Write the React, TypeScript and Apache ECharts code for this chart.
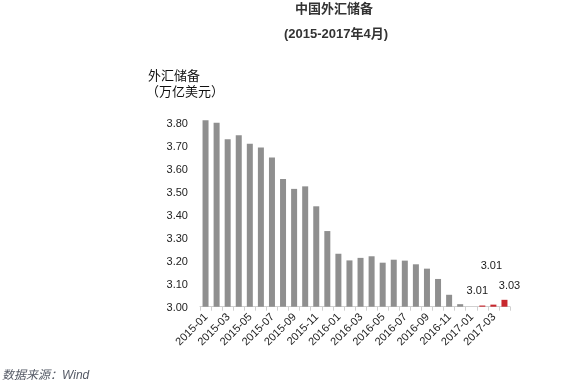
import React, { useEffect, useRef } from "react";
import * as echarts from "echarts";

const categories = [
  "2015-01","2015-02","2015-03","2015-04","2015-05","2015-06","2015-07","2015-08","2015-09","2015-10","2015-11","2015-12",
  "2016-01","2016-02","2016-03","2016-04","2016-05","2016-06","2016-07","2016-08","2016-09","2016-10","2016-11","2016-12",
  "2017-01","2017-02","2017-03","2017-04",
];
const reserves = [
  3.813, 3.802, 3.730, 3.748, 3.711, 3.694, 3.651, 3.557, 3.514, 3.525, 3.438, 3.330,
  3.231, 3.202, 3.213, 3.220, 3.192, 3.205, 3.201, 3.185, 3.166, 3.121, 3.052, 3.011,
  2.998, 3.0051, 3.009, 3.030,
];
const highlighted = ["2017-02", "2017-03", "2017-04"];
const labelOffsets: Record<string, number[]> = {
  "2017-02": [-5, -5],
  "2017-03": [-2, -29],
  "2017-04": [5, -4],
};

const FONT = "'Liberation Sans', 'Noto Sans CJK SC', sans-serif";

export default function App() {
  const ref = useRef<HTMLDivElement>(null);
  useEffect(() => {
    if (!ref.current) return;
    const chart = echarts.init(ref.current, undefined, { renderer: "svg" });
    const data = categories.map((c, i) => {
      const hi = highlighted.includes(c);
      return {
        value: reserves[i],
        itemStyle: { color: hi ? "#c8282e" : "#8f8f8f" },
        label: hi
          ? {
              show: true,
              position: "top",
              offset: labelOffsets[c],
              formatter: (p: any) => (Math.round(Number(p.value) * 100 + 1e-6) / 100).toFixed(2),
              color: "#1a1a1a",
              fontSize: 11,
              fontFamily: FONT,
            }
          : { show: false },
      };
    });
    chart.setOption({
      animation: false,
      textStyle: { fontFamily: FONT },
      grid: { left: 200, right: 71, top: 100.4, bottom: 81.3, containLabel: false },
      graphic: [
        {
          type: "text",
          x: 334, y: 8.5,
          style: { text: "中国外汇储备", fontSize: 13, fontWeight: "bold", fill: "#333", align: "center", verticalAlign: "middle", fontFamily: FONT },
        },
        {
          type: "text",
          x: 336, y: 33.5,
          style: { text: "(2015-2017年4月)", fontSize: 13, fontWeight: "bold", fill: "#333", align: "center", verticalAlign: "middle", fontFamily: FONT },
        },
        {
          type: "text",
          x: 148, y: 75,
          style: { text: "外汇储备", fontSize: 13, fill: "#111", align: "left", verticalAlign: "middle", fontFamily: FONT },
        },
        {
          type: "text",
          x: 146, y: 91,
          style: { text: "（万亿美元）", fontSize: 13, fill: "#111", align: "left", verticalAlign: "middle", fontFamily: FONT },
        },
        {
          type: "text",
          x: 2, y: 375,
          style: { text: "数据来源：Wind", fontSize: 12, fontStyle: "italic", fill: "#555a66", align: "left", verticalAlign: "middle", fontFamily: FONT },
        },
      ],
      xAxis: {
        type: "category",
        data: categories,
        axisLine: { lineStyle: { color: "#d0d0d0" } },
        axisTick: { show: true, interval: 0, length: 4, lineStyle: { color: "#d0d0d0" } },
        axisLabel: { interval: 1, rotate: 45, fontSize: 11, color: "#222", margin: 8, fontFamily: FONT },
      },
      yAxis: {
        type: "value",
        min: 3.0,
        max: 3.9,
        interval: 0.1,
        axisLine: { show: false },
        axisTick: { show: false },
        splitLine: { show: false },
        axisLabel: {
          showMaxLabel: false,
          fontSize: 11,
          color: "#222",
          margin: 12,
          fontFamily: FONT,
          formatter: (v: number) => v.toFixed(2),
        },
      },
      series: [
        {
          type: "bar",
          data,
          barWidth: 6,
          clip: true,
        },
      ],
    });
    return () => chart.dispose();
  }, []);
  return <div ref={ref} style={{ position: "fixed", left: 0, top: 0, width: 581, height: 388 }} />;
}
